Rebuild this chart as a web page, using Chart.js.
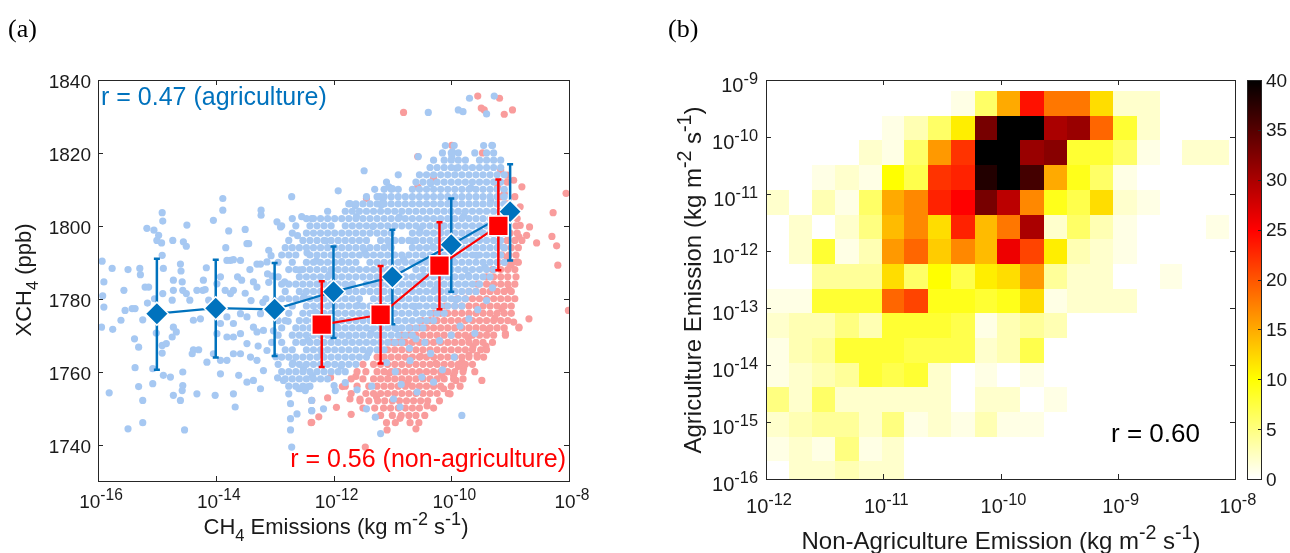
<!DOCTYPE html>
<html>
<head>
<meta charset="utf-8">
<script src="https://cdn.jsdelivr.net/npm/chart.js@4.4.1/dist/chart.umd.min.js"></script>
<style>
  body { margin: 0; background: #fff; width: 1290px; height: 553px; overflow: hidden; position: relative; }
  #ca { position: absolute; left: 0; top: 0; }
  #cb { position: absolute; left: 645px; top: 0; }
</style>
</head>
<body>
<canvas id="ca" width="645" height="553"></canvas>
<canvas id="cb" width="645" height="553"></canvas>
<script>
// ---------- panel (a) data : x = log10(CH4 emission), y = XCH4 (ppb) ----------
const blueMeanX = [-15, -14, -13, -12, -11, -10, -9];
const blueMeanY = [1775.9, 1777.4, 1777.1, 1781.9, 1786.0, 1794.8, 1803.9];
const blueErrLo = [1760.5, 1763.9, 1764.3, 1769.2, 1773.0, 1781.9, 1790.5];
const blueErrHi = [1791.0, 1790.7, 1789.8, 1794.3, 1798.9, 1807.5, 1816.9];

const redMeanX = [-12.2, -11.2, -10.2, -9.2];
const redMeanY = [1772.9, 1775.6, 1789.1, 1800.0];
const redErrLo = [1761.3, 1762.2, 1777.1, 1787.8];
const redErrHi = [1784.8, 1789.0, 1801.0, 1812.7];

const aXTicks = [-16, -14, -12, -10, -8];
const aYTicks = [1740, 1760, 1780, 1800, 1820, 1840];

// loose agriculture points [log10 emission, ppb]
const blueLoose = [
  [-15.93,1790.3],[-15.9,1784.6],[-15.92,1780.8],[-15.9,1777.7],[-15.94,1772.2],[-15.76,1788.3],[-15.75,1771.6],[-15.81,1754.2],
  [-15.56,1782.3],[-15.49,1788.0],[-15.61,1774.1],[-15.54,1776.8],[-15.42,1777.3],[-15.37,1777.3],[-15.38,1769.0],[-15.31,1766.7],
  [-15.37,1761.1],[-15.31,1755.9],[-15.24,1752.1],[-15.24,1746.0],[-15.49,1744.3],[-15.29,1788.3],[-15.28,1786.6],[-15.2,1783.2],
  [-15.14,1783.2],[-15.17,1799.3],[-15.05,1798.8],[-14.91,1803.6],[-14.9,1801.3],[-14.97,1797.4],[-14.92,1795.3],[-15.0,1796.0],
  [-14.91,1791.9],[-14.89,1788.3],[-14.9,1781.4],[-15.04,1780.0],[-15.16,1778.8],[-15.24,1774.2],[-15.01,1770.6],[-14.91,1767.2],
  [-14.91,1765.1],[-14.84,1767.7],[-14.89,1759.0],[-14.77,1758.5],[-15.07,1756.7],[-15.07,1760.8],[-14.73,1796.0],[-14.6,1789.5],
  [-14.59,1787.6],[-14.72,1785.1],[-14.72,1782.3],[-14.57,1784.6],[-14.56,1782.3],[-14.5,1781.4],[-14.74,1779.6],[-14.44,1779.6],
  [-14.49,1800.2],[-14.55,1795.6],[-14.5,1794.4],[-14.72,1772.2],[-14.74,1769.5],[-14.67,1770.9],[-14.56,1759.9],[-14.56,1756.2],
  [-14.57,1754.8],[-14.72,1753.5],[-14.6,1752.1],[-14.32,1753.9],[-14.53,1744.0],[-14.38,1774.1],[-14.26,1774.5],[-14.32,1782.3],
  [-14.22,1782.3],[-14.38,1766.0],[-14.4,1764.9],[-14.29,1766.0],[-14.15,1762.6],[-14.16,1788.5],[-14.21,1785.1],[-14.18,1782.5],
  [-14.12,1779.6],[-14.04,1801.5],[-13.88,1807.5],[-13.88,1804.3],[-13.78,1798.6],[-13.83,1794.0],[-13.81,1790.5],[-13.75,1790.5],
  [-13.7,1790.7],[-13.58,1790.5],[-13.5,1799.0],[-13.47,1795.1],[-13.44,1795.1],[-13.3,1789.5],[-13.24,1789.5],[-13.23,1804.3],
  [-13.23,1802.9],[-13.92,1786.0],[-13.98,1784.1],[-13.84,1782.3],[-13.75,1781.4],[-13.7,1782.3],[-13.63,1786.0],[-13.56,1785.1],
  [-13.36,1784.6],[-13.3,1783.2],[-13.98,1775.9],[-13.92,1773.2],[-13.81,1775.0],[-13.7,1773.2],[-13.58,1775.9],[-13.47,1775.0],
  [-13.36,1772.2],[-13.24,1775.9],[-13.98,1770.4],[-13.81,1769.5],[-13.7,1769.5],[-13.58,1770.4],[-13.47,1767.7],[-13.3,1770.9],
  [-13.19,1771.3],[-14.04,1764.9],[-13.92,1763.1],[-13.81,1763.1],[-13.7,1764.9],[-13.58,1764.9],[-13.41,1764.0],[-13.3,1763.1],
  [-13.13,1765.8],[-13.92,1759.4],[-13.61,1759.0],[-13.47,1757.1],[-13.36,1757.6],[-13.24,1755.3],[-13.7,1753.9],[-13.67,1750.3],
  [-14.01,1753.5],[-13.19,1760.3],[-13.1,1793.3],[-13.13,1790.1],[-12.96,1801.1],[-12.9,1799.7],[-12.71,1808.0],[-12.54,1802.5],
  [-12.37,1802.0],[-12.85,1757.6],[-12.76,1753.9],[-12.73,1751.2],[-12.73,1747.1],[-12.73,1744.0],[-12.71,1739.3],[-12.56,1755.3],
  [-12.45,1755.8],[-12.37,1749.3],[-12.37,1752.1],[-13.15,1780.0],[-13.05,1776.0],[-13.1,1784.5],[-13.2,1779.0],[-13.4,1779.5],
  [-13.05,1768.0],[-13.12,1786.8],[-13.5,1781.5],[-13.42,1788.0],[-13.28,1767.0],
  [-9.69,1835.0],[-9.27,1835.6],[-10.39,1831.1],[-9.88,1831.8],[-9.8,1831.3],[-9.4,1830.7],[-9.31,1822.1],[-9.99,1818.9],
  [-9.98,1820.3],[-10.56,1819.0],[-11.48,1815.1],[-11.92,1809.6],[-11.72,1806.1],[-11.63,1805.5],[-11.21,1808.0],[-11.19,1805.7],
  [-11.06,1810.7],[-11.0,1810.2],[-9.82,1748.0],[-10.3,1757.1],[-10.58,1754.4],[-10.87,1750.3],[-10.98,1752.5],[-11.29,1747.5],
  [-11.44,1749.8],[-11.99,1756.2],[-11.97,1754.8],[-12.17,1749.8],[-12.37,1749.3],[-12.62,1748.4],[-12.51,1760.8],[-12.59,1755.3],
  [-12.48,1754.8],[-11.1,1762.5],[-10.95,1760.0],[-10.7,1763.0],[-10.5,1758.5],[-10.85,1756.5],[-10.35,1765.0],[-10.2,1768.5],
  [-10.0,1770.0],[-9.85,1772.5],[-9.7,1774.5],[-9.55,1777.0],[-9.4,1779.5],[-11.35,1756.0],[-11.6,1755.0],[-11.8,1757.0],
  [-10.6,1769.0],[-10.45,1768.0],[-9.95,1764.0],[-9.6,1770.5],[-9.3,1783.0],[-11.2,1743.0],[-10.15,1760.5],
  // in-between points of the dense cloud
  [-12.61,1797.3],[-12.29,1790.4],[-12.07,1786.7],[-11.73,1783.6],[-11.58,1778.2],[-11.21,1775.9],[-10.93,1771.8],[-10.71,1766.4],
  [-12.83,1784.6],[-12.5,1780.7],[-12.31,1776.3],[-11.95,1772.5],[-11.74,1769.8],[-11.41,1765.1],[-12.77,1773.8],[-12.43,1768.6],
  [-12.2,1764.7],[-11.87,1761.5],[-12.69,1762.4],[-12.36,1758.9],[-11.61,1802.5],[-11.33,1799.8],[-11.05,1794.6],[-10.81,1790.9],
  [-10.47,1786.3],[-10.27,1782.6],[-9.92,1779.7],[-11.16,1806.8],[-10.88,1802.4],[-10.53,1799.1],[-10.31,1794.3],[-9.98,1790.8],
  [-9.71,1786.4],[-9.43,1788.7],[-10.35,1811.6],[-10.02,1806.6],[-9.79,1802.7],[-9.51,1798.5],[-9.19,1794.6],[-9.91,1815.8],
  [-9.67,1810.4],[-9.33,1806.9],[-9.12,1802.3],[-12.45,1792.6],[-12.13,1795.9],[-11.86,1790.2],[-11.47,1793.1],[-11.09,1787.4],
  [-10.66,1795.8],[-10.17,1799.6],[-9.84,1795.2],[-9.57,1791.9],[-11.02,1780.4],[-10.62,1777.9],[-11.36,1770.6],[-12.02,1778.6],
  [-12.57,1787.9],[-12.99,1779.4],[-13.04,1786.2],[-13.02,1771.2],[-12.98,1764.1],[-13.06,1791.8],[-12.95,1758.3]
];

// dense agriculture cloud, one row per ppb level: [ppb, [log10 emission ...]]
const blueRows = [
  [1822, [-10.1,-9.95,-9.45,-9.3]],
  [1820, [-10.15,-10.0,-9.88,-9.6,-9.4,-9.28]],
  [1818, [-10.3,-10.12,-10.0,-9.88,-9.76,-9.52,-9.4,-9.28,-9.16]],
  [1816, [-10.36,-10.24,-10.12,-10.0,-9.88,-9.76,-9.64,-9.52,-9.4,-9.28,-9.16]],
  [1814, [-10.9,-10.54,-10.42,-10.3,-10.18,-10.06,-9.94,-9.82,-9.7,-9.58,-9.46,-9.34,-9.22,-9.1]],
  [1812, [-11.1,-10.6,-10.48,-10.36,-10.24,-10.12,-10.0,-9.88,-9.76,-9.64,-9.52,-9.4,-9.28,-9.16]],
  [1810, [-11.3,-11.14,-11.02,-10.9,-10.66,-10.54,-10.42,-10.3,-10.18,-10.06,-9.94,-9.82,-9.7,-9.58,-9.46,-9.34,-9.22,-9.1]],
  [1808, [-11.44,-11.26,-11.14,-11.02,-10.9,-10.78,-10.66,-10.54,-10.42,-10.3,-10.18,-10.06,-9.94,-9.82,-9.7,-9.58,-9.46,-9.34,-9.22,-9.1]],
  [1806, [-11.74,-11.62,-11.5,-11.38,-11.26,-11.14,-11.02,-10.9,-10.78,-10.66,-10.54,-10.42,-10.3,-10.18,-10.06,-9.94,-9.82,-9.7,-9.58,-9.46,-9.34,-9.22,-9.1]],
  [1804, [-12.1,-11.8,-11.68,-11.56,-11.44,-11.32,-11.2,-11.08,-10.96,-10.84,-10.72,-10.6,-10.48,-10.36,-10.24,-10.12,-10.0,-9.88,-9.76,-9.64,-9.52,-9.4,-9.28,-9.16]],
  [1802, [-12.7,-12.46,-12.34,-12.22,-12.1,-11.98,-11.86,-11.74,-11.62,-11.5,-11.38,-11.26,-11.14,-11.02,-10.9,-10.78,-10.66,-10.54,-10.42,-10.3,-10.18,-10.06,-9.94,-9.82,-9.7,-9.58,-9.46,-9.34,-9.22,-9.1]],
  [1800, [-12.88,-12.64,-12.4,-12.28,-12.16,-12.04,-11.8,-11.68,-11.56,-11.44,-11.32,-11.2,-11.08,-10.96,-10.84,-10.72,-10.6,-10.48,-10.36,-10.24,-10.12,-10.0,-9.88,-9.76,-9.64,-9.52,-9.4,-9.28,-9.16]],
  [1798, [-12.7,-12.46,-12.34,-12.22,-12.1,-11.98,-11.86,-11.74,-11.62,-11.5,-11.38,-11.26,-11.14,-11.02,-10.66,-10.54,-10.42,-10.3,-10.18,-10.06,-9.94,-9.82,-9.7,-9.58,-9.46,-9.34,-9.22,-9.1]],
  [1796, [-12.76,-12.52,-12.4,-12.28,-12.16,-12.04,-11.92,-11.8,-11.68,-11.56,-11.44,-11.2,-11.08,-10.96,-10.84,-10.72,-10.6,-10.48,-10.36,-10.24,-10.12,-10.0,-9.88,-9.76,-9.64,-9.52,-9.4,-9.28,-9.16]],
  [1794, [-12.82,-12.7,-12.58,-12.46,-12.34,-12.22,-12.1,-11.98,-11.86,-11.74,-11.62,-11.5,-11.38,-11.26,-11.14,-11.02,-10.66,-10.54,-10.42,-10.3,-10.18,-10.06,-9.94,-9.82,-9.7,-9.58,-9.46,-9.34,-9.22,-9.1]],
  [1792, [-12.88,-12.76,-12.64,-12.4,-12.28,-12.16,-12.04,-11.92,-11.8,-11.68,-11.56,-11.44,-11.32,-11.2,-11.08,-10.96,-10.84,-10.72,-10.6,-10.48,-10.36,-10.24,-10.12,-10.0,-9.88,-9.76,-9.64,-9.52,-9.4,-9.28,-9.16]],
  [1790, [-12.94,-12.7,-12.46,-12.34,-12.22,-12.1,-11.98,-11.86,-11.74,-11.62,-11.38,-11.26,-11.14,-11.02,-10.9,-10.78,-10.66,-10.54,-10.42,-10.3,-10.18,-10.06,-9.94,-9.82,-9.7,-9.58,-9.46,-9.34,-9.22,-9.1]],
  [1788, [-12.76,-12.64,-12.52,-12.4,-12.28,-12.16,-12.04,-11.92,-11.8,-11.68,-11.56,-11.44,-11.32,-11.2,-11.08,-10.96,-10.84,-10.6,-10.48,-10.36,-10.24,-10.12,-10.0,-9.88,-9.76,-9.64,-9.52,-9.4,-9.28]],
  [1786, [-12.94,-12.58,-12.46,-12.34,-12.22,-12.1,-11.98,-11.86,-11.74,-11.62,-11.5,-11.38,-11.26,-11.14,-11.02,-10.9,-10.78,-10.66,-10.54,-10.42,-10.3,-10.18,-10.06,-9.94,-9.82,-9.7,-9.58,-9.46,-9.34]],
  [1784, [-12.88,-12.76,-12.64,-12.52,-12.4,-12.28,-12.16,-12.04,-11.92,-11.8,-11.68,-11.44,-11.32,-11.2,-11.08,-10.96,-10.84,-10.72,-10.6,-10.48,-10.36,-10.24,-10.12,-10.0,-9.88,-9.76,-9.64,-9.52]],
  [1782, [-12.82,-12.58,-12.46,-12.34,-12.22,-12.1,-11.98,-11.86,-11.74,-11.62,-11.5,-11.38,-11.26,-11.14,-11.02,-10.9,-10.78,-10.66,-10.54,-10.42,-10.3,-10.18,-10.06,-9.94,-9.82,-9.7,-9.58]],
  [1780, [-12.88,-12.76,-12.64,-12.52,-12.4,-12.28,-12.16,-12.04,-11.92,-11.8,-11.68,-11.56,-11.32,-11.2,-11.08,-10.96,-10.84,-10.72,-10.6,-10.48,-10.36,-10.24,-10.12,-10.0,-9.88,-9.76]],
  [1778, [-12.94,-12.7,-12.46,-12.34,-12.22,-12.1,-11.98,-11.86,-11.74,-11.62,-11.5,-11.38,-11.26,-11.14,-11.02,-10.9,-10.78,-10.66,-10.54,-10.42,-10.3,-10.18,-10.06,-9.94,-9.82]],
  [1776, [-12.76,-12.52,-12.4,-12.28,-12.16,-12.04,-11.92,-11.8,-11.68,-11.56,-11.44,-11.32,-11.2,-11.08,-10.96,-10.84,-10.72,-10.6,-10.48,-10.36,-10.24,-10.12]],
  [1774, [-12.94,-12.82,-12.58,-12.46,-12.34,-12.22,-12.1,-11.98,-11.86,-11.74,-11.62,-11.5,-11.38,-11.26,-11.14,-11.02,-10.9,-10.78,-10.66,-10.54,-10.42,-10.3]],
  [1772, [-12.88,-12.64,-12.52,-12.4,-12.28,-12.16,-12.04,-11.92,-11.8,-11.68,-11.56,-11.44,-11.32,-11.2,-11.08,-10.96,-10.84,-10.72,-10.6,-10.48]],
  [1770, [-12.94,-12.7,-12.58,-12.46,-12.34,-12.22,-12.1,-11.98,-11.86,-11.74,-11.62,-11.5,-11.38,-11.26,-11.14,-11.02,-10.9,-10.78,-10.66]],
  [1768, [-12.88,-12.64,-12.52,-12.4,-12.28,-12.16,-12.04,-11.92,-11.8,-11.68,-11.56,-11.44,-11.32,-11.2,-11.08,-10.96,-10.84]],
  [1766, [-12.82,-12.7,-12.46,-12.34,-12.22,-12.1,-11.98,-11.86,-11.74,-11.62,-11.5,-11.38,-11.26,-11.14]],
  [1764, [-12.88,-12.76,-12.64,-12.52,-12.4,-12.28,-12.16,-12.04,-11.92,-11.8,-11.68,-11.56,-11.44]],
  [1762, [-12.94,-12.7,-12.58,-12.46,-12.34,-12.22,-12.1,-11.98,-11.86,-11.74,-11.62]],
  [1760, [-12.88,-12.76,-12.64,-12.52,-12.4,-12.28,-12.16,-12.04,-11.92,-11.8]],
  [1758, [-12.82,-12.7,-12.58,-12.46,-12.34,-12.22,-12.1]],
  [1756, [-12.76,-12.64,-12.52,-12.4]]
];

// loose non-agriculture points [log10 emission, ppb]
const pinkLoose = [
  [-10.81,1831.1],[-9.55,1835.6],[-9.18,1835.0],[-9.49,1832.3],[-9.44,1831.8],[-9.1,1830.6],[-8.96,1831.8],[-9.99,1822.1],
  [-9.47,1820.0],[-10.57,1819.0],[-11.44,1807.5],[-10.57,1810.7],[-8.05,1808.9],[-8.27,1803.6],[-8.67,1799.7],[-8.55,1795.3],
  [-8.29,1797.1],[-8.21,1794.5],[-8.19,1789.2],[-8.01,1776.8],[-8.68,1774.5],[-8.85,1772.2],[-8.94,1773.6],[-9.08,1770.4],
  [-9.48,1757.6],[-9.41,1767.0],[-9.56,1764.5],[-9.7,1764.5],[-9.82,1762.6],[-9.79,1760.8],[-9.96,1759.0],[-9.92,1757.6],
  [-10.16,1759.0],[-10.02,1753.9],[-10.6,1744.3],[-11.09,1744.0],[-11.46,1739.3],[-12.37,1746.1],[-12.37,1752.1],[-11.72,1752.5],
  [-11.55,1752.5],[-8.83,1800.1],[-8.72,1797.4],[-8.85,1797.0],[-8.88,1790.1],[-8.99,1789.2],[-9.05,1791.4],[-8.83,1805.2],
  [-8.8,1810.7],[-8.94,1812.5],[-9.05,1813.9],[-9.16,1815.3],[-9.1,1808.9],[-9.21,1810.7],[-12.38,1746.0],[-10.3,1813.0],
  [-10.87,1747.2],[-10.41,1750.6],[-10.13,1755.3],[-9.88,1761.4],[-9.63,1766.9],[-9.37,1771.6],[-9.14,1777.3],[-11.27,1753.1],
  [-10.74,1756.9],[-10.26,1762.3],[-9.71,1769.2],[-9.26,1774.7],[-9.02,1782.6],[-11.62,1758.7],[-11.05,1759.6],[-10.52,1764.2],
  [-12.1,1752.8],[-11.95,1750.2],[-12.25,1747.6],[-11.85,1755.9],[-12.05,1758.4],[-11.7,1748.3]
];

const pinkRows = [
  [1746, [-11.1,-10.95,-10.7,-10.55]],
  [1748, [-11.2,-11.0,-10.85,-10.72,-10.6,-10.45]],
  [1750, [-11.5,-11.3,-11.15,-11.03,-10.9,-10.78,-10.66,-10.54,-10.3]],
  [1752, [-11.55,-11.4,-11.25,-11.13,-11.0,-10.88,-10.76,-10.64,-10.52,-10.4,-10.2]],
  [1754, [-11.7,-11.45,-11.32,-11.2,-11.08,-10.96,-10.84,-10.72,-10.6,-10.48,-10.36,-10.24,-10.05]],
  [1756, [-11.8,-11.6,-11.4,-11.26,-11.14,-11.02,-10.9,-10.78,-10.66,-10.54,-10.42,-10.3,-10.18,-10.0,-9.85]],
  [1758, [-11.7,-11.5,-11.32,-11.2,-11.08,-10.96,-10.84,-10.72,-10.6,-10.48,-10.36,-10.24,-10.12,-9.96,-9.8]],
  [1760, [-11.6,-11.45,-11.26,-11.14,-11.02,-10.9,-10.78,-10.66,-10.54,-10.42,-10.3,-10.18,-10.06,-9.94,-9.8,-9.6]],
  [1762, [-11.5,-11.32,-11.2,-11.08,-10.96,-10.84,-10.72,-10.6,-10.48,-10.36,-10.24,-10.12,-10.0,-9.88,-9.76,-9.64]],
  [1764, [-11.26,-11.14,-11.02,-10.9,-10.78,-10.66,-10.54,-10.42,-10.3,-10.18,-10.06,-9.94,-9.82,-9.7,-9.56,-9.45]],
  [1766, [-11.2,-11.08,-10.96,-10.84,-10.72,-10.6,-10.48,-10.36,-10.24,-10.12,-10.0,-9.88,-9.76,-9.64,-9.5,-9.4]],
  [1768, [-11.0,-10.9,-10.78,-10.66,-10.54,-10.42,-10.3,-10.18,-10.06,-9.94,-9.82,-9.7,-9.58,-9.46,-9.3]],
  [1770, [-10.84,-10.72,-10.6,-10.48,-10.36,-10.24,-10.12,-10.0,-9.88,-9.76,-9.64,-9.52,-9.4,-9.28,-9.08]],
  [1772, [-10.7,-10.54,-10.42,-10.3,-10.18,-10.06,-9.94,-9.82,-9.7,-9.58,-9.46,-9.34,-9.22,-9.1,-8.85]],
  [1774, [-10.5,-10.36,-10.24,-10.12,-10.0,-9.88,-9.76,-9.64,-9.52,-9.4,-9.28,-9.16,-9.04]],
  [1776, [-10.3,-10.18,-10.06,-9.94,-9.82,-9.7,-9.58,-9.46,-9.34,-9.22,-9.1,-8.98]],
  [1778, [-10.1,-9.94,-9.82,-9.7,-9.58,-9.46,-9.34,-9.22,-9.1,-8.98]],
  [1780, [-9.9,-9.76,-9.64,-9.52,-9.4,-9.28,-9.16,-9.04,-8.92]],
  [1782, [-9.7,-9.58,-9.46,-9.34,-9.22,-9.1,-8.98]],
  [1784, [-9.55,-9.4,-9.28,-9.16,-9.04,-8.92]],
  [1786, [-9.4,-9.28,-9.16,-9.04,-8.9]],
  [1788, [-9.3,-9.16,-9.04,-8.92]],
  [1790, [-9.2,-9.08,-8.96,-8.86]],
  [1792, [-9.14,-9.02,-8.9]],
  [1794, [-9.1,-8.98,-8.86]],
  [1796, [-9.05,-8.92,-8.8]],
  [1798, [-9.0,-8.88]],
  [1800, [-9.05,-8.9]],
  [1802, [-9.0,-8.88]],
  [1804, [-9.1,-8.95]],
  [1806, [-9.05]],
  [1808, [-9.15,-8.92]],
  [1812, [-9.05]]
];

// ---------- panel (b) data : 2-D histogram of log10 emissions ----------
const xEdges = [-12.00,-11.80,-11.61,-11.41,-11.21,-11.01,-10.82,-10.62,-10.42,-10.22,-10.03,
                -9.83,-9.63,-9.43,-9.24,-9.04,-8.84,-8.64,-8.45,-8.25,-8.05];
const yEdges = [-9.19,-9.63,-10.06,-10.49,-10.93,-11.36,-11.79,-12.23,-12.66,-13.09,-13.53,
                -13.96,-14.39,-14.83,-15.26,-15.69,-16.13];
const counts = [
  [0,0,0,0,0,0,0,0,1,6,15,24,18,18,12,2,2,0,0,0],
  [0,0,0,0,0,1,3,6,11,33,40,40,30,31,19,8,2,0,0,0],
  [0,0,0,0,2,1,6,16,22,40,40,31,32,8,8,6,1,0,2,2],
  [0,0,1,2,1,10,7,22,23,38,40,36,15,9,6,1,0,0,0,0],
  [2,0,3,1,6,15,17,23,25,33,29,17,9,7,12,2,1,0,0,0],
  [0,2,0,2,5,14,17,12,23,14,18,30,2,6,3,1,0,0,0,1],
  [0,2,8,1,3,16,19,13,17,14,26,21,11,3,2,1,0,0,0,0],
  [0,0,4,4,4,12,6,10,7,11,12,16,4,2,2,0,0,1,0,0],
  [1,1,8,8,8,19,21,9,9,8,9,12,1,2,2,2,0,0,0,0],
  [2,3,3,5,3,8,8,8,7,1,3,4,3,0,0,0,0,0,0,0],
  [1,3,4,8,8,8,7,7,7,2,3,7,0,0,0,0,0,0,0,0],
  [1,2,3,4,8,7,8,2,0,1,0,1,0,0,0,0,0,0,0,0],
  [5,2,6,2,2,2,2,2,0,2,2,0,1,0,0,0,0,0,0,0],
  [2,3,4,4,2,5,1,2,1,3,1,1,0,0,0,0,0,0,0,0],
  [1,2,1,5,1,2,0,0,0,0,0,0,0,0,0,0,0,0,0,0],
  [0,2,2,3,2,2,0,0,0,0,0,0,0,0,0,0,0,0,0,0]
];
const bXTicks = [-12, -11, -10, -9, -8];
const bYTicks = [-16, -15, -14, -13, -12, -11, -10, -9];
const cbarTicks = [0, 5, 10, 15, 20, 25, 30, 35, 40];

// ---------- helpers ----------
const SANS = '"Liberation Sans", Arial, Helvetica, sans-serif';
const INK = '#1a1a1a';
const AXIS = '#262626';

function rowsToPoints(rows) {
  const out = [];
  rows.forEach(([ppb, xs]) => xs.forEach(e => out.push({ x: e, y: ppb })));
  return out;
}
const toPts = (xs, ys) => xs.map((x, i) => ({ x: x, y: ys[i] }));

// text with super/subscripts: parts = [[text, shift]], shift 1 = sup, -1 = sub
function rich(ctx, parts, x, y, size, align, color) {
  const fonts = parts.map(p => (p[1] === 1 ? size * 0.82 : p[1] === -1 ? size * 0.75 : size) + 'px ' + SANS);
  let w = 0;
  const ws = parts.map((p, i) => { ctx.font = fonts[i]; const m = ctx.measureText(p[0]).width; w += m; return m; });
  let cx = align === 'center' ? x - w / 2 : align === 'right' ? x - w : x;
  ctx.fillStyle = color;
  ctx.textAlign = 'left';
  ctx.textBaseline = 'alphabetic';
  parts.forEach((p, i) => {
    ctx.font = fonts[i];
    const dy = p[1] === 1 ? -size * 0.42 : p[1] === -1 ? size * 0.3 : 0;
    ctx.fillText(p[0], cx, y + dy);
    cx += ws[i];
  });
}
function richUp(ctx, parts, x, y, size, color) {
  ctx.save();
  ctx.translate(x, y);
  ctx.rotate(-Math.PI / 2);
  rich(ctx, parts, 0, 0, size, 'center', color);
  ctx.restore();
}
const pow10 = e => [['10', 0], [String(e), 1]];

// reversed MATLAB "hot": white -> yellow -> red -> black over 0..40
function hotr(v) {
  const t = 1 - Math.min(Math.max(v / 40, 0), 1);
  const r = Math.min(1, t / 0.375);
  const g = Math.min(1, Math.max(0, (t - 0.375) / 0.375));
  const b = Math.min(1, Math.max(0, (t - 0.75) / 0.25));
  return 'rgb(' + Math.round(r * 255) + ',' + Math.round(g * 255) + ',' + Math.round(b * 255) + ')';
}

function drawBox(ctx, a) {
  ctx.strokeStyle = AXIS;
  ctx.lineWidth = 1;
  ctx.strokeRect(Math.round(a.left) + 0.5, Math.round(a.top) + 0.5,
                 Math.round(a.right - a.left), Math.round(a.bottom - a.top));
}

// ---------- panel (a) ----------
function errorBars(chart, xs, lo, hi, color) {
  const ctx = chart.ctx, sx = chart.scales.x, sy = chart.scales.y;
  ctx.save();
  ctx.strokeStyle = color;
  ctx.lineWidth = 2.5;
  xs.forEach((x, i) => {
    const px = sx.getPixelForValue(x);
    const y0 = sy.getPixelForValue(lo[i]), y1 = sy.getPixelForValue(hi[i]);
    ctx.beginPath();
    ctx.moveTo(px, y0); ctx.lineTo(px, y1);
    ctx.moveTo(px - 3, y0); ctx.lineTo(px + 3, y0);
    ctx.moveTo(px - 3, y1); ctx.lineTo(px + 3, y1);
    ctx.stroke();
  });
  ctx.restore();
}

const panelA = {
  id: 'panelA',
  beforeDatasetDraw(chart, args) {
    if (args.index === 1) errorBars(chart, blueMeanX, blueErrLo, blueErrHi, '#0072BD');
    if (args.index === 0) errorBars(chart, redMeanX, redErrLo, redErrHi, '#FF0000');
  },
  afterDraw(chart) {
    const ctx = chart.ctx, a = chart.chartArea, sx = chart.scales.x, sy = chart.scales.y;
    ctx.save();
    drawBox(ctx, a);
    ctx.beginPath();
    aXTicks.forEach(t => {
      const px = Math.round(sx.getPixelForValue(t)) + 0.5;
      ctx.moveTo(px, a.bottom); ctx.lineTo(px, a.bottom - 5);
      ctx.moveTo(px, a.top); ctx.lineTo(px, a.top + 5);
    });
    aYTicks.forEach(t => {
      const py = Math.round(sy.getPixelForValue(t)) + 0.5;
      ctx.moveTo(a.left, py); ctx.lineTo(a.left + 5, py);
      ctx.moveTo(a.right, py); ctx.lineTo(a.right - 5, py);
    });
    ctx.stroke();
    aXTicks.forEach(t => rich(ctx, pow10(t), sx.getPixelForValue(t) + 3, 508, 19, 'center', INK));
    aYTicks.forEach(t => rich(ctx, [[String(t), 0]], 91, sy.getPixelForValue(t) + 8, 19, 'right', INK));
    rich(ctx, [['CH', 0], ['4', -1], [' Emissions (kg m', 0], ['-2', 1], [' s', 0], ['-1', 1], [')', 0]],
         336, 534, 22, 'center', INK);
    richUp(ctx, [['XCH', 0], ['4', -1], [' (ppb)', 0]], 31, 280, 22, INK);
    rich(ctx, [['r = 0.47 (agriculture)', 0]], 101, 105, 25, 'left', '#0072BD');
    rich(ctx, [['r = 0.56 (non-agriculture)', 0]], 566, 467, 25, 'right', '#FF0000');
    ctx.font = '26px "Liberation Serif", "Times New Roman", serif';
    ctx.fillStyle = '#000';
    ctx.textAlign = 'left';
    ctx.fillText('(a)', 8, 37);
    ctx.restore();
  }
};

new Chart(document.getElementById('ca'), {
  type: 'scatter',
  data: {
    datasets: [
      {
        label: 'non-agriculture mean', type: 'line', data: toPts(redMeanX, redMeanY),
        borderColor: '#FF0000', borderWidth: 2.2, fill: false,
        pointStyle: 'rect', pointRadius: 14, pointBackgroundColor: '#FF0000',
        pointBorderColor: '#ffffff', pointBorderWidth: 1.5, order: 1
      },
      {
        label: 'agriculture mean', type: 'line', data: toPts(blueMeanX, blueMeanY),
        borderColor: '#0072BD', borderWidth: 2.2, fill: false,
        pointStyle: 'rectRot', pointRadius: 11.5, pointBackgroundColor: '#0072BD',
        pointBorderColor: '#ffffff', pointBorderWidth: 1.5, order: 2
      },
      {
        label: 'agriculture', data: blueLoose.map(p => ({ x: p[0], y: p[1] })).concat(rowsToPoints(blueRows)),
        backgroundColor: '#A6C8F2', pointRadius: 3.6, borderWidth: 0, order: 3
      },
      {
        label: 'non-agriculture', data: pinkLoose.map(p => ({ x: p[0], y: p[1] })).concat(rowsToPoints(pinkRows)),
        backgroundColor: '#F99C9C', pointRadius: 3.6, borderWidth: 0, order: 4
      }
    ]
  },
  options: {
    responsive: false,
    animation: false,
    devicePixelRatio: 1,
    events: [],
    layout: { padding: { left: 98, top: 80, right: 76, bottom: 72 } },
    plugins: { legend: { display: false }, tooltip: { enabled: false } },
    scales: {
      x: { type: 'linear', min: -16, max: -8, display: false },
      y: { type: 'linear', min: 1730, max: 1840, display: false }
    }
  },
  plugins: [panelA]
});

// ---------- panel (b) ----------
const panelB = {
  id: 'panelB',
  beforeDatasetsDraw(chart) {
    const ctx = chart.ctx, a = chart.chartArea, sx = chart.scales.x, sy = chart.scales.y;
    ctx.save();
    ctx.beginPath();
    ctx.rect(a.left, a.top, a.right - a.left, a.bottom - a.top);
    ctx.clip();
    counts.forEach((row, r) => {
      const y0 = Math.round(sy.getPixelForValue(yEdges[r]));
      const y1 = Math.round(sy.getPixelForValue(yEdges[r + 1]));
      row.forEach((v, c) => {
        if (!v) return;
        const x0 = Math.round(sx.getPixelForValue(xEdges[c]));
        const x1 = Math.round(sx.getPixelForValue(xEdges[c + 1]));
        ctx.fillStyle = hotr(v);
        ctx.fillRect(x0, y0, x1 - x0, y1 - y0);
      });
    });
    ctx.restore();
  },
  afterDraw(chart) {
    const ctx = chart.ctx, a = chart.chartArea, sx = chart.scales.x, sy = chart.scales.y, sc = chart.scales.c;
    ctx.save();
    drawBox(ctx, a);
    ctx.beginPath();
    bXTicks.forEach(t => {
      const px = Math.round(sx.getPixelForValue(t)) + 0.5;
      ctx.moveTo(px, a.bottom); ctx.lineTo(px, a.bottom - 5);
      ctx.moveTo(px, a.top); ctx.lineTo(px, a.top + 5);
    });
    bYTicks.forEach(t => {
      const py = Math.round(sy.getPixelForValue(t)) + 0.5;
      ctx.moveTo(a.left, py); ctx.lineTo(a.left + 5, py);
      ctx.moveTo(a.right, py); ctx.lineTo(a.right - 5, py);
    });
    ctx.stroke();
    bXTicks.forEach(t => rich(ctx, pow10(t), sx.getPixelForValue(t) + 3, 513, 20, 'center', INK));
    bYTicks.forEach(t => rich(ctx, pow10(t), 113, sy.getPixelForValue(t) + 12, 20, 'right', INK));
    rich(ctx, [['Non-Agriculture Emission (kg m', 0], ['-2', 1], [' s', 0], ['-1', 1], [')', 0]],
         356, 549, 24, 'center', INK);
    richUp(ctx, [['Agriculture Emission (kg m', 0], ['-2', 1], [' s', 0], ['-1', 1], [')', 0]],
           56, 280, 24, INK);
    rich(ctx, [['r = 0.60', 0]], 466, 442, 26, 'left', '#000');

    // colour bar on its own 0..40 scale
    const cbL = 602, cbR = 616;
    const top = sc.getPixelForValue(40), bot = sc.getPixelForValue(0);
    const grad = ctx.createLinearGradient(0, bot, 0, top);
    grad.addColorStop(0, hotr(0));
    grad.addColorStop(0.25, hotr(10));
    grad.addColorStop(0.625, hotr(25));
    grad.addColorStop(1, hotr(40));
    ctx.fillStyle = grad;
    ctx.fillRect(cbL, top, cbR - cbL, bot - top);
    ctx.strokeStyle = AXIS;
    ctx.lineWidth = 1;
    ctx.strokeRect(cbL + 0.5, Math.round(top) + 0.5, cbR - cbL, Math.round(bot - top));
    ctx.beginPath();
    cbarTicks.forEach(t => {
      const py = Math.round(sc.getPixelForValue(t)) + 0.5;
      ctx.moveTo(cbR, py); ctx.lineTo(cbR - 3, py);
    });
    ctx.stroke();
    cbarTicks.forEach(t => rich(ctx, [[String(t), 0]], cbR + 5, sc.getPixelForValue(t) + 6.5, 19, 'left', INK));

    ctx.font = '26px "Liberation Serif", "Times New Roman", serif';
    ctx.fillStyle = '#000';
    ctx.textAlign = 'left';
    ctx.fillText('(b)', 23, 37);
    ctx.restore();
  }
};

new Chart(document.getElementById('cb'), {
  type: 'scatter',
  data: { datasets: [] },
  options: {
    responsive: false,
    animation: false,
    devicePixelRatio: 1,
    events: [],
    layout: { padding: { left: 121, top: 80, right: 55, bottom: 74 } },
    plugins: { legend: { display: false }, tooltip: { enabled: false } },
    scales: {
      x: { type: 'linear', min: -12, max: -8, display: false },
      y: { type: 'linear', min: -16, max: -9, display: false },
      c: { type: 'linear', axis: 'y', min: 0, max: 40, display: false }
    }
  },
  plugins: [panelB]
});
</script>
</body>
</html>
